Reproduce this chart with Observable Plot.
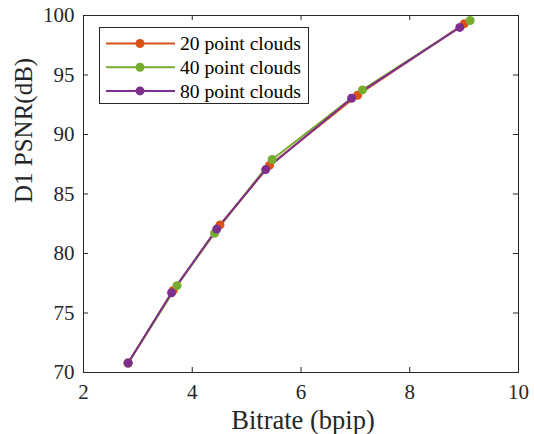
<!DOCTYPE html>
<html>
<head>
<meta charset="utf-8">
<script src="https://cdn.jsdelivr.net/npm/d3@7"></script>
<script src="https://cdn.jsdelivr.net/npm/@observablehq/plot@0.6"></script>
<style>
  html, body { margin: 0; padding: 0; background: #fff; }
  #chart svg { display: block; }
  #chart svg text { font-family: "Liberation Serif", "Times New Roman", serif; }
</style>
</head>
<body>
<div id="chart"></div>
<script>
// Rate–distortion curves: D1 PSNR vs. bitrate for three training-set sizes
const seriesNames = ["20 point clouds", "40 point clouds", "80 point clouds"];
const seriesColors = ["#D95319", "#77AC30", "#7E2F8E"];

const bitrate20 = [2.82, 3.65, 4.51, 5.42, 7.04, 9.00];
const psnr20    = [70.8, 76.9, 82.4, 87.4, 93.3, 99.3];

const bitrate40 = [2.82, 3.72, 4.41, 5.47, 7.13, 9.11];
const psnr40    = [70.8, 77.3, 81.7, 87.9, 93.75, 99.58];

const bitrate80 = [2.82, 3.62, 4.45, 5.35, 6.93, 8.92];
const psnr80    = [70.8, 76.7, 82.05, 87.05, 93.05, 99.0];

const xTicks = [2, 4, 6, 8, 10];
const yTicks = [70, 75, 80, 85, 90, 95, 100];

const rows = [];
[[bitrate20, psnr20], [bitrate40, psnr40], [bitrate80, psnr80]].forEach(([xs, ys], s) => {
  xs.forEach((x, i) => rows.push({series: seriesNames[s], bitrate: x, psnr: ys[i]}));
});

const W = 534, H = 434;
const mL = 83, mR = 16, mT = 15, mB = 62;
const innerH = H - mT - mB;
const innerW = W - mL - mR;
const tickLen = 5;
const axisColor = "#262626";
const font = "'Liberation Serif', 'Times New Roman', serif";

// Legend box drawn inside the plot frame, top-left corner
function legendMark(index, scales, values, dimensions) {
  const g = d3.create("svg:g");
  const x0 = dimensions.marginLeft + 16, y0 = dimensions.marginTop + 12;
  const bw = 209, bh = 76;
  g.append("rect")
    .attr("x", x0 + 0.5).attr("y", y0 + 0.5)
    .attr("width", bw).attr("height", bh)
    .attr("fill", "#fff").attr("stroke", axisColor).attr("stroke-width", 1);
  seriesNames.forEach((name, i) => {
    const cy = y0 + 16.5 + i * 23.7;
    const c = scales.color(name);
    g.append("line")
      .attr("x1", x0 + 7).attr("x2", x0 + 76)
      .attr("y1", cy).attr("y2", cy)
      .attr("stroke", c).attr("stroke-width", 2);
    g.append("circle")
      .attr("cx", x0 + 41).attr("cy", cy).attr("r", 4.5)
      .attr("fill", c);
    g.append("text")
      .attr("x", x0 + 81).attr("y", cy).attr("dy", "0.34em")
      .attr("text-anchor", "start")
      .style("font-family", font).style("font-size", "19.6px")
      .attr("fill", "#000")
      .text(name);
  });
  return g.node();
}

const chart = Plot.plot({
  width: W,
  height: H,
  marginLeft: mL,
  marginRight: mR,
  marginTop: mT,
  marginBottom: mB,
  style: {fontFamily: font, background: "#fff"},
  x: {domain: [2, 10], ticks: xTicks},
  y: {domain: [70, 100], ticks: yTicks},
  color: {domain: seriesNames, range: seriesColors},
  marks: [
    // tick labels
    Plot.axisX(xTicks, {anchor: "bottom", tickSize: 0, tickPadding: 12, fontSize: 21, fontFamily: font, color: axisColor, label: null}),
    Plot.axisY(yTicks, {anchor: "left", tickSize: 0, tickPadding: 9, fontSize: 21, fontFamily: font, color: axisColor, label: null}),
    // inward ticks on all four sides
    Plot.tickX(xTicks, {x: d => d, insetTop: innerH - tickLen, stroke: axisColor}),
    Plot.tickX(xTicks, {x: d => d, insetBottom: innerH - tickLen, stroke: axisColor}),
    Plot.tickY(yTicks, {y: d => d, insetRight: innerW - tickLen, stroke: axisColor}),
    Plot.tickY(yTicks, {y: d => d, insetLeft: innerW - tickLen, stroke: axisColor}),
    Plot.frame({stroke: axisColor, strokeWidth: 1}),
    // curves
    Plot.line(rows, {x: "bitrate", y: "psnr", z: "series", stroke: "series", strokeWidth: 2}),
    Plot.dot(rows, {x: "bitrate", y: "psnr", fill: "series", r: 4.5}),
    // axis titles
    Plot.text(["Bitrate (bpip)"], {frameAnchor: "bottom", dx: 2, dy: 56, fontSize: 26.5, fontFamily: font, fill: "#262626", text: d => d}),
    Plot.text(["D1 PSNR(dB)"], {frameAnchor: "left", rotate: -90, dx: -60, dy: 9, fontSize: 25, fontFamily: font, fill: "#262626", text: d => d}),
    legendMark
  ]
});

document.getElementById("chart").appendChild(chart);
</script>
</body>
</html>
